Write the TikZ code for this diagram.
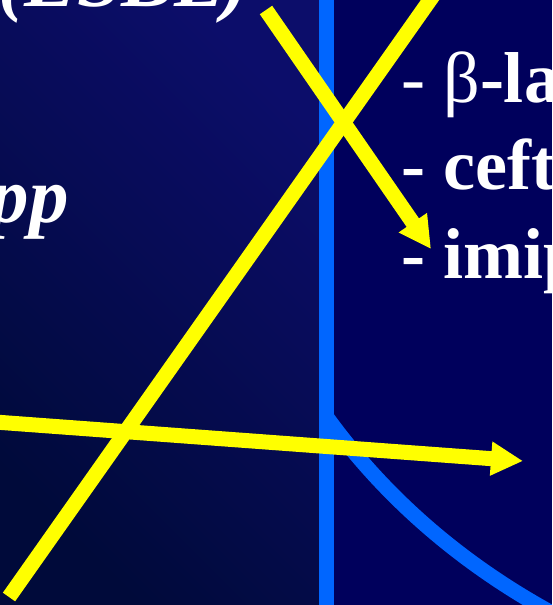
\documentclass[tikz,border=0pt]{standalone}
\usepackage{fontspec}
\setmainfont{Liberation Serif}
\usetikzlibrary{arrows.meta}
\definecolor{slideNavy}{HTML}{00005C}
\definecolor{shadeTop}{HTML}{0C0D6A}
\definecolor{shadeBottom}{HTML}{000A3A}
\definecolor{axisBlue}{HTML}{0066FF}
\definecolor{markYellow}{HTML}{FFFF00}

\begin{document}
\begin{tikzpicture}[x=0.02cm, y=-0.02cm,
  axisline/.style={draw=axisBlue, line width=0.3cm},
  yline/.style={draw=markYellow, line width=0.3cm},
  yarrow/.style={yline, -{Triangle[length=0.64cm, width=0.64cm]}},
  rtext/.style={anchor=base west, inner sep=0pt, text=white,
                font=\fontsize{41}{48}\selectfont},
  ltext/.style={anchor=base east, inner sep=0pt, text=white,
                font=\fontsize{45}{52}\selectfont\bfseries\itshape},
]
  \useasboundingbox (0,0) rectangle (552,605);
  \clip (0,0) rectangle (552,605);
  \fill[slideNavy] (0,0) rectangle (552,605);
  \shade[top color=shadeTop, bottom color=shadeBottom, shading angle=-45]
    (0,0) rectangle (326,605);

  \node[ltext] (esbl) at (249,7) {(ESBL)};
  \node[ltext] (spp) at (69,222) {pp};
  \node[rtext] (beta) at (401,102) {- β\textbf{-la}};
  \node[rtext] (ceft) at (401,189) {\bfseries - ceft};
  \node[rtext] (imip) at (401,278) {\bfseries - imip};

  \coordinate (axtop) at (326,-10);
  \coordinate (axbot) at (326,615);
  \coordinate (bend) at (326,416);
  \coordinate (tail) at (565,620);
  \draw[axisline] (axtop) -- (axbot);
  \draw[axisline] (bend) .. controls (375,484) and (450,560) .. (tail);

  \coordinate (crossA) at (9,597);
  \coordinate (crossB) at (442,-17);
  \coordinate (slantA) at (266,10);
  \coordinate (slantB) at (431,249);
  \coordinate (flatA) at (-5,422);
  \coordinate (flatB) at (523,461);
  \draw[yline] (crossA) -- (crossB);
  \draw[yarrow] (slantA) -- (slantB);
  \draw[yarrow] (flatA) -- (flatB);
\end{tikzpicture}
\end{document}
